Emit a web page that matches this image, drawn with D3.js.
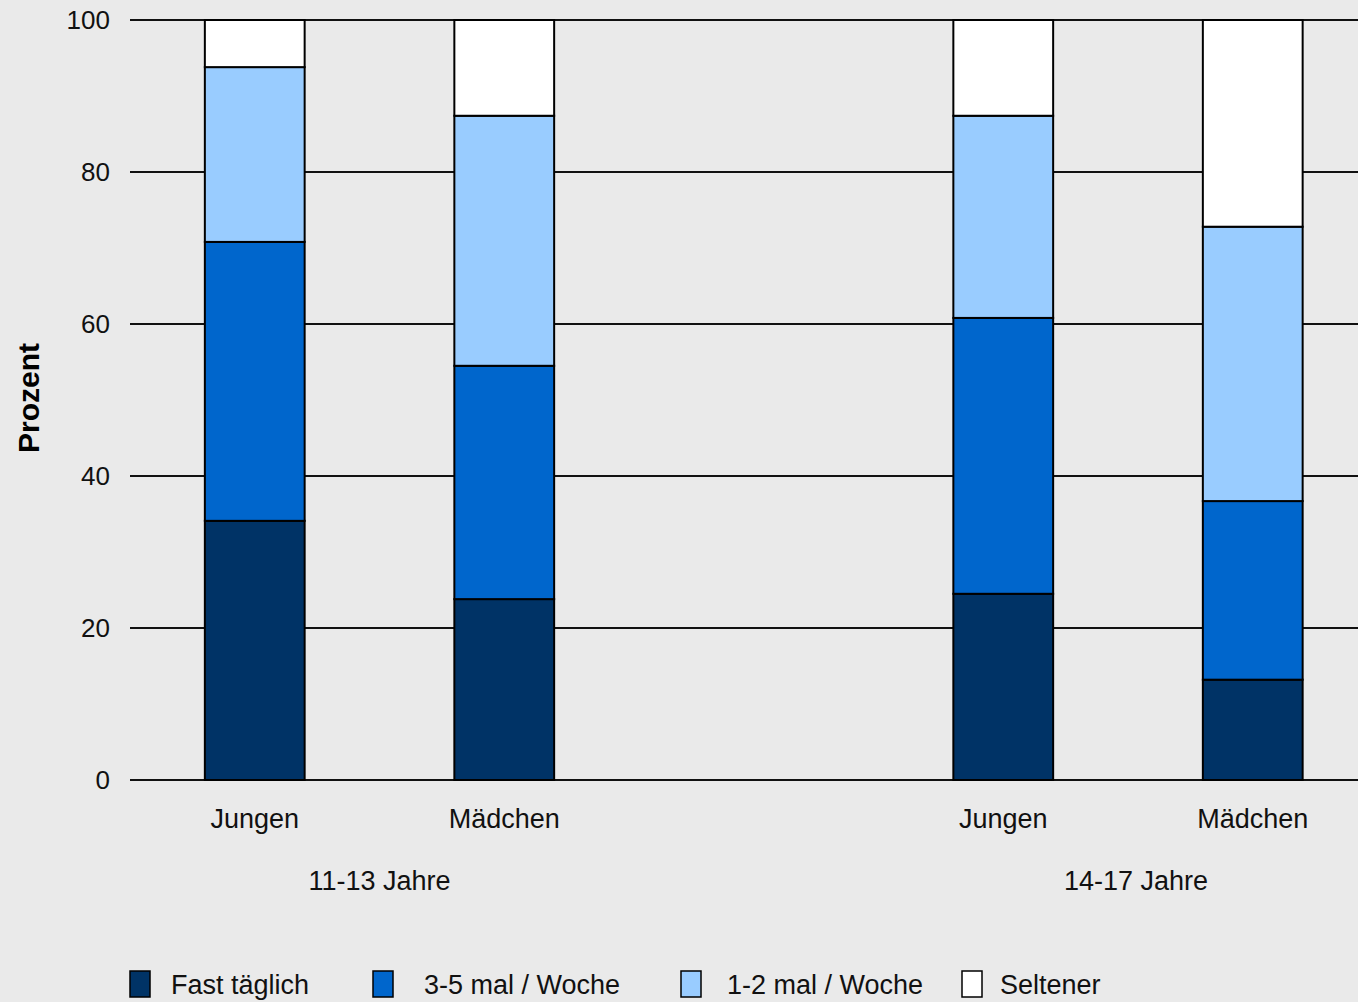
<!DOCTYPE html>
<html>
<head>
<meta charset="utf-8">
<script src="https://cdn.jsdelivr.net/npm/d3@7"></script>
<style>
  html, body { margin: 0; padding: 0; background: #eaeaea; }
  svg { display: block; font-family: "Liberation Sans", Arial, sans-serif; }
</style>
</head>
<body>
<svg id="chart" width="1358" height="1002"></svg>
<script>
// Bars in drawing order (an empty slot separates the two age groups)
const barKeys   = ["j1", "m1", "sep", "j2", "m2"];
const barLabels = ["Jungen", "Mädchen", "", "Jungen", "Mädchen"];
const ageGroups = ["11-13 Jahre", "14-17 Jahre"];
const groupMembers = [["j1", "m1"], ["j2", "m2"]];

// Frequency categories, stacked bottom to top
const seriesNames  = ["Fast täglich", "3-5 mal / Woche", "1-2 mal / Woche", "Seltener"];
const seriesColors = ["#003366", "#0066cc", "#99ccff", "#ffffff"];

// Percent per bar, one array per category
const fastTaeglich = [34.1, 23.8, 24.5, 13.2];
const dreiBisFuenf = [36.7, 30.7, 36.3, 23.5];
const einsBisZwei  = [23.0, 32.9, 26.6, 36.1];
const seltener     = [6.2, 12.6, 12.6, 27.2];
const dataKeys     = ["j1", "m1", "j2", "m2"];

const yTicks = [0, 20, 40, 60, 80, 100];

const svg = d3.select("#chart");
const plot = { left: 130, right: 1377.5, top: 20, bottom: 780 };
const fontSize = 27;

const x = d3.scaleBand()
  .domain(barKeys)
  .range([plot.left, plot.right])
  .paddingInner(0.6)
  .paddingOuter(0.3);

const y = d3.scaleLinear().domain([0, 100]).range([plot.bottom, plot.top]);

// Rows for the stack
const rows = dataKeys.map((k, i) => ({
  key: k,
  [seriesNames[0]]: fastTaeglich[i],
  [seriesNames[1]]: dreiBisFuenf[i],
  [seriesNames[2]]: einsBisZwei[i],
  [seriesNames[3]]: seltener[i]
}));
const stacked = d3.stack().keys(seriesNames)(rows);

// Horizontal grid lines
svg.append("g")
  .selectAll("line")
  .data(yTicks)
  .join("line")
  .attr("x1", plot.left)
  .attr("x2", 1358)
  .attr("y1", d => y(d))
  .attr("y2", d => y(d))
  .attr("stroke", "#111")
  .attr("stroke-width", 2);

// Y tick labels
svg.append("g")
  .selectAll("text")
  .data(yTicks)
  .join("text")
  .attr("x", 110)
  .attr("y", d => y(d))
  .attr("dy", "0.35em")
  .attr("text-anchor", "end")
  .attr("font-size", 26)
  .attr("fill", "#111")
  .text(d => d);

// Stacked bars
const layers = svg.append("g")
  .selectAll("g")
  .data(stacked)
  .join("g")
  .attr("fill", (d, i) => seriesColors[i]);

layers.selectAll("rect")
  .data(d => d)
  .join("rect")
  .attr("x", d => x(d.data.key))
  .attr("width", x.bandwidth())
  .attr("y", d => y(d[1]))
  .attr("height", d => y(d[0]) - y(d[1]))
  .attr("stroke", "#000")
  .attr("stroke-width", 2);

// Bar labels
svg.append("g")
  .selectAll("text")
  .data(barKeys.map((k, i) => ({ k, label: barLabels[i] })).filter(d => d.label))
  .join("text")
  .attr("x", d => x(d.k) + x.bandwidth() / 2)
  .attr("y", 819)
  .attr("dy", "0.35em")
  .attr("text-anchor", "middle")
  .attr("font-size", fontSize)
  .attr("fill", "#111")
  .text(d => d.label);

// Age group labels, centred under their pair of bars
svg.append("g")
  .selectAll("text")
  .data(ageGroups)
  .join("text")
  .attr("x", (d, i) => {
    const [a, b] = groupMembers[i];
    return (x(a) + x(b) + x.bandwidth()) / 2 + (i === 1 ? 8 : 0);
  })
  .attr("y", 881)
  .attr("dy", "0.35em")
  .attr("text-anchor", "middle")
  .attr("font-size", fontSize)
  .attr("fill", "#111")
  .text(d => d);

// Y axis title
svg.append("text")
  .attr("transform", "translate(28,398) rotate(-90)")
  .attr("dy", "0.35em")
  .attr("text-anchor", "middle")
  .attr("font-size", 30)
  .attr("font-weight", "bold")
  .attr("fill", "#000")
  .text("Prozent");

// Legend
const legendX = [130, 373, 681, 962];
const legend = svg.append("g")
  .selectAll("g")
  .data(seriesNames)
  .join("g")
  .attr("transform", (d, i) => `translate(${legendX[i]},971)`);

legend.append("rect")
  .attr("width", 20)
  .attr("height", 26)
  .attr("fill", (d, i) => seriesColors[i])
  .attr("stroke", "#000")
  .attr("stroke-width", 1.5);

legend.append("text")
  .attr("x", (d, i) => [41, 51, 46, 38][i])
  .attr("y", 14)
  .attr("dy", "0.35em")
  .attr("font-size", fontSize)
  .attr("fill", "#111")
  .text(d => d);
</script>
</body>
</html>
